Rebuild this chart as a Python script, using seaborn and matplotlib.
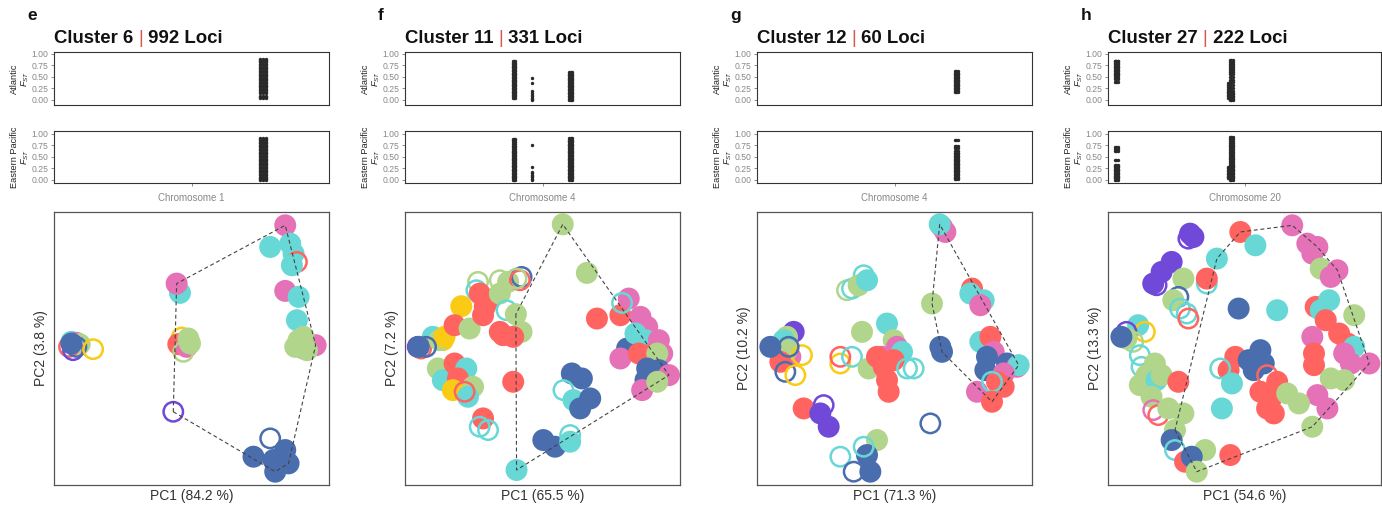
import numpy as np
import pandas as pd
import matplotlib
matplotlib.use("Agg")
import matplotlib.pyplot as plt
import matplotlib.colors as mcolors
from matplotlib.text import Annotation
import seaborn as sns

sns.set_theme(style="white")
plt.rcParams['font.family'] = ['Liberation Sans', 'DejaVu Sans']
plt.rcParams['mathtext.fontset'] = 'custom'
plt.rcParams['mathtext.it'] = 'Liberation Sans:italic'
plt.rcParams['mathtext.rm'] = 'Liberation Sans'

# ---------------- data ----------------
panel_letters = ["e", "f", "g", "h"]
cluster_ids = [6, 11, 12, 27]
loci_counts = [992, 331, 60, 222]
chromosomes = ["Chromosome 1", "Chromosome 4", "Chromosome 4", "Chromosome 20"]
pc1_var = [84.2, 65.5, 71.3, 54.6]
pc2_var = [3.8, 7.2, 10.2, 13.3]
fst_ticks = [0.0, 0.25, 0.5, 0.75, 1.0]
fst_ticklabels = ["0.00", "0.25", "0.50", "0.75", "1.00"]

# FST: locus positions along chromosome (relative) and FST values
e_pos = [0.76]
e_atl = [[0.04, 0.06, 0.08, 0.15, 0.18, 0.21, 0.24, 0.27, 0.30, 0.33, 0.36, 0.39, 0.42, 0.45,
          0.48, 0.51, 0.54, 0.57, 0.60, 0.63, 0.66, 0.69, 0.72, 0.75, 0.78, 0.81, 0.84, 0.87, 0.89]]
e_ep = [[0.00, 0.02, 0.04, 0.07, 0.10, 0.13, 0.16, 0.19, 0.22, 0.25, 0.28, 0.31, 0.34, 0.37, 0.40,
         0.43, 0.46, 0.49, 0.52, 0.55, 0.58, 0.61, 0.64, 0.67, 0.70, 0.73, 0.76, 0.79, 0.82, 0.85, 0.88, 0.90]]

f_pos = [0.397, 0.462, 0.602]
f_atl = [[0.05, 0.08, 0.11, 0.14, 0.17, 0.20, 0.23, 0.26, 0.29, 0.32, 0.35, 0.38, 0.41, 0.44, 0.47,
          0.50, 0.53, 0.56, 0.59, 0.62, 0.65, 0.68, 0.71, 0.74, 0.77, 0.80, 0.83],
         [0.00, 0.02, 0.05, 0.08, 0.11, 0.14, 0.20, 0.37, 0.48],
         [0.00, 0.03, 0.06, 0.09, 0.12, 0.15, 0.18, 0.21, 0.24, 0.27, 0.30, 0.33, 0.36, 0.39, 0.42,
          0.45, 0.48, 0.51, 0.54, 0.57, 0.60]]
f_ep = [[0.00, 0.03, 0.06, 0.09, 0.12, 0.15, 0.18, 0.21, 0.24, 0.27, 0.30, 0.33, 0.36, 0.39, 0.42,
         0.45, 0.48, 0.51, 0.54, 0.57, 0.60, 0.63, 0.66, 0.70, 0.74, 0.78, 0.82, 0.85, 0.88],
        [0.00, 0.02, 0.05, 0.08, 0.11, 0.14, 0.17, 0.27, 0.76],
        [0.00, 0.03, 0.06, 0.09, 0.12, 0.15, 0.18, 0.21, 0.24, 0.27, 0.30, 0.33, 0.36, 0.39, 0.42,
         0.45, 0.48, 0.51, 0.54, 0.57, 0.60, 0.63, 0.66, 0.69, 0.72, 0.75, 0.78, 0.81, 0.84, 0.87, 0.90]]

g_pos = [0.725]
g_atl = [[0.17, 0.20, 0.23, 0.26, 0.29, 0.32, 0.35, 0.38, 0.41, 0.44, 0.47, 0.50, 0.53, 0.56, 0.59, 0.62]]
g_ep = [[0.02, 0.04, 0.07, 0.10, 0.13, 0.16, 0.19, 0.22, 0.25, 0.28, 0.31, 0.34, 0.37, 0.40, 0.43,
         0.46, 0.49, 0.52, 0.55, 0.58, 0.63, 0.68, 0.73, 0.86]]

h_pos = [0.03, 0.44, 0.452]
h_atl = [[0.38, 0.45, 0.50, 0.53, 0.56, 0.59, 0.62, 0.65, 0.68, 0.71, 0.74, 0.77, 0.80, 0.83, 0.85],
         [0.05, 0.08, 0.11, 0.14, 0.17, 0.20, 0.24, 0.28, 0.33, 0.36],
         [0.00, 0.03, 0.06, 0.09, 0.12, 0.15, 0.20, 0.26, 0.32, 0.38, 0.44, 0.50, 0.55, 0.60, 0.65,
          0.70, 0.74, 0.78, 0.82, 0.86]]
h_ep = [[0.00, 0.03, 0.06, 0.09, 0.12, 0.15, 0.18, 0.21, 0.24, 0.27, 0.30, 0.33, 0.43, 0.62, 0.66, 0.71],
        [0.03, 0.06, 0.09, 0.12, 0.15, 0.18, 0.22, 0.25, 0.28],
        [0.00, 0.03, 0.06, 0.09, 0.12, 0.15, 0.18, 0.21, 0.24, 0.27, 0.30, 0.33, 0.36, 0.40, 0.44,
         0.48, 0.52, 0.56, 0.60, 0.64, 0.68, 0.72, 0.76, 0.80, 0.84, 0.88, 0.92]]

# PCA scores: (PC1, PC2, population, filled, on-hull group)
e_pca = [
    (95, 475, "cyan", 1, 0), (110, 472, "pink", 1, 0), (120, 468, "green", 1, 0), (88, 460, "red", 0, 0),
    (100, 450, "purple", 0, 0), (110, 460, "blue", 0, 0), (160, 453, "yellow", 0, 0), (95, 470, "blue", 1, 0),
    (420, 622, "cyan", 1, 0), (410, 650, "pink", 1, 1),
    (425, 488, "yellow", 0, 0), (415, 468, "red", 1, 0), (440, 460, "pink", 1, 0), (430, 445, "green", 0, 0),
    (445, 485, "green", 1, 0), (450, 470, "green", 1, 0),
    (400, 265, "purple", 0, 1),
    (735, 825, "pink", 1, 1), (690, 760, "cyan", 1, 0), (750, 770, "cyan", 1, 0), (760, 740, "cyan", 1, 0),
    (770, 715, "red", 0, 0), (755, 705, "cyan", 1, 0), (735, 628, "pink", 1, 0), (775, 610, "cyan", 1, 0),
    (770, 540, "cyan", 1, 0), (790, 455, "pink", 1, 0), (826, 465, "pink", 1, 1), (765, 460, "green", 1, 0),
    (790, 490, "green", 1, 0), (775, 480, "green", 1, 0), (800, 450, "green", 1, 0),
    (690, 185, "blue", 0, 0), (640, 130, "blue", 1, 0), (735, 150, "blue", 1, 0), (745, 110, "blue", 1, 1),
    (700, 120, "blue", 1, 0), (705, 85, "blue", 1, 1),
]
f_pca = [
    (130, 490, "cyan", 1, 0), (85, 460, "purple", 0, 0), (95, 455, "red", 0, 0), (160, 480, "yellow", 0, 0),
    (150, 480, "green", 1, 0), (165, 490, "yellow", 1, 0), (110, 460, "blue", 0, 0), (88, 460, "blue", 1, 0),
    (215, 582, "yellow", 1, 0), (195, 525, "red", 1, 0), (240, 515, "green", 1, 0),
    (265, 655, "green", 0, 0), (330, 660, "green", 0, 0), (355, 655, "green", 1, 0), (395, 670, "blue", 0, 0),
    (390, 660, "red", 0, 0), (380, 665, "green", 0, 0),
    (260, 630, "cyan", 0, 0), (270, 620, "red", 1, 0), (300, 600, "red", 1, 0), (285, 580, "red", 1, 0),
    (280, 555, "red", 1, 0), (330, 620, "green", 1, 0), (350, 570, "cyan", 0, 0), (378, 558, "green", 1, 1),
    (395, 505, "green", 1, 0), (330, 505, "red", 1, 0), (340, 495, "red", 1, 0), (370, 490, "red", 1, 0),
    (145, 395, "green", 1, 0), (160, 360, "cyan", 1, 0), (195, 410, "red", 1, 0), (230, 395, "cyan", 1, 0),
    (205, 365, "red", 1, 0), (250, 340, "green", 1, 0), (190, 330, "yellow", 1, 0), (235, 310, "cyan", 1, 0),
    (225, 325, "red", 0, 0), (280, 245, "red", 1, 0), (270, 220, "cyan", 0, 0), (295, 210, "cyan", 0, 0),
    (370, 355, "red", 1, 0),
    (518, 828, "green", 1, 1), (590, 682, "green", 1, 0),
    (620, 545, "red", 1, 0), (690, 555, "red", 1, 0), (715, 605, "pink", 1, 0), (695, 592, "cyan", 0, 0),
    (750, 550, "pink", 1, 0), (770, 520, "pink", 1, 0), (710, 455, "blue", 1, 0), (690, 425, "pink", 1, 0),
    (735, 500, "cyan", 1, 0), (765, 480, "cyan", 1, 0), (785, 460, "cyan", 1, 0), (805, 480, "pink", 1, 0),
    (815, 440, "pink", 1, 0), (745, 440, "red", 1, 0), (775, 435, "red", 1, 0), (800, 440, "green", 1, 0),
    (770, 395, "blue", 1, 0), (805, 390, "blue", 1, 0), (765, 360, "blue", 1, 0), (835, 375, "pink", 1, 1),
    (755, 330, "pink", 1, 0), (800, 355, "green", 1, 0),
    (545, 380, "blue", 1, 0), (575, 365, "blue", 1, 0), (520, 330, "cyan", 0, 0), (550, 300, "cyan", 1, 0),
    (600, 305, "blue", 1, 0), (570, 275, "blue", 1, 0),
    (460, 180, "blue", 1, 0), (495, 160, "blue", 1, 0), (540, 195, "cyan", 0, 0), (540, 175, "cyan", 1, 0),
    (380, 90, "cyan", 1, 1),
]
g_pca = [
    (605, 820, "pink", 1, 0), (615, 805, "pink", 1, 0), (598, 828, "cyan", 1, 1),
    (320, 630, "green", 0, 0), (335, 635, "cyan", 0, 0), (370, 675, "cyan", 0, 0), (355, 645, "green", 1, 0),
    (380, 660, "cyan", 1, 0),
    (575, 590, "green", 1, 1),
    (695, 635, "red", 1, 0), (690, 620, "cyan", 1, 0), (730, 600, "cyan", 1, 0), (720, 585, "pink", 1, 0),
    (160, 505, "purple", 1, 0), (150, 430, "pink", 1, 0), (140, 490, "green", 1, 0), (130, 480, "cyan", 1, 0),
    (140, 450, "green", 1, 0), (120, 415, "red", 1, 0), (135, 385, "blue", 0, 0), (165, 375, "yellow", 0, 0),
    (185, 435, "yellow", 0, 0), (90, 460, "blue", 1, 0), (145, 460, "blue", 0, 0),
    (365, 505, "green", 1, 0), (440, 530, "cyan", 1, 0), (460, 480, "green", 1, 0), (300, 410, "yellow", 0, 0),
    (300, 430, "red", 0, 0), (335, 430, "cyan", 0, 0), (385, 395, "green", 1, 0), (425, 430, "pink", 1, 0),
    (470, 460, "pink", 1, 0), (485, 445, "cyan", 1, 0), (410, 430, "red", 1, 0), (460, 420, "red", 1, 0),
    (430, 400, "red", 1, 0), (440, 360, "red", 1, 0), (445, 325, "red", 1, 0), (500, 395, "cyan", 0, 0),
    (520, 395, "cyan", 0, 0),
    (600, 460, "blue", 1, 0), (605, 445, "blue", 1, 1),
    (720, 475, "cyan", 1, 0), (750, 490, "red", 1, 0), (760, 445, "pink", 1, 0), (740, 430, "blue", 1, 0),
    (800, 410, "blue", 1, 0), (830, 400, "pink", 1, 0), (835, 405, "cyan", 1, 1), (735, 390, "blue", 1, 0),
    (790, 380, "pink", 1, 0), (710, 325, "pink", 1, 0), (790, 340, "red", 1, 0), (770, 355, "red", 1, 0),
    (755, 355, "cyan", 0, 0), (755, 295, "red", 1, 1),
    (190, 275, "red", 1, 0), (250, 285, "purple", 0, 0), (240, 260, "purple", 1, 0), (265, 220, "purple", 1, 0),
    (570, 230, "blue", 0, 0),
    (410, 180, "green", 1, 0), (300, 130, "cyan", 0, 0), (380, 135, "blue", 1, 0), (370, 160, "cyan", 0, 0),
    (340, 85, "blue", 0, 0), (390, 85, "blue", 1, 0),
]
h_pca = [
    (300, 800, "purple", 1, 0), (295, 785, "purple", 0, 0), (310, 790, "purple", 1, 0), (245, 715, "purple", 1, 0),
    (215, 685, "purple", 1, 0), (190, 650, "purple", 1, 0), (200, 645, "purple", 0, 0),
    (380, 725, "cyan", 1, 1), (280, 665, "green", 1, 0), (350, 650, "cyan", 0, 0), (350, 665, "red", 1, 0),
    (265, 610, "blue", 0, 0), (250, 600, "green", 1, 0), (270, 575, "cyan", 0, 0), (290, 560, "cyan", 0, 0),
    (295, 545, "red", 0, 0),
    (450, 805, "red", 1, 1), (495, 765, "cyan", 1, 0),
    (145, 525, "cyan", 1, 0), (165, 505, "yellow", 0, 0), (110, 505, "purple", 0, 0), (130, 475, "green", 0, 0),
    (110, 485, "green", 1, 0), (95, 490, "blue", 1, 0), (150, 435, "cyan", 0, 0), (155, 400, "cyan", 0, 0),
    (195, 410, "green", 1, 0), (170, 375, "green", 1, 0), (150, 345, "green", 1, 0), (200, 360, "cyan", 1, 0),
    (215, 375, "green", 1, 0), (185, 310, "green", 1, 0), (190, 270, "pink", 0, 0), (205, 255, "red", 0, 0),
    (235, 275, "green", 1, 0), (280, 260, "green", 1, 0), (265, 355, "red", 1, 0), (255, 210, "green", 1, 1),
    (245, 180, "blue", 1, 0), (255, 150, "cyan", 0, 0), (285, 115, "red", 1, 0), (345, 150, "green", 1, 0),
    (305, 130, "blue", 1, 0), (320, 85, "green", 1, 1), (420, 135, "red", 1, 0),
    (445, 575, "blue", 1, 0), (560, 570, "cyan", 1, 0), (395, 275, "cyan", 1, 0), (435, 430, "red", 1, 0),
    (415, 390, "red", 1, 0), (390, 395, "cyan", 0, 0), (425, 350, "cyan", 1, 0), (475, 420, "blue", 1, 0),
    (510, 450, "blue", 1, 0), (490, 390, "blue", 1, 0), (520, 410, "blue", 1, 0), (530, 375, "red", 0, 0),
    (560, 355, "red", 1, 0), (510, 325, "red", 1, 0), (540, 300, "red", 1, 0), (550, 260, "red", 1, 0),
    (530, 275, "red", 1, 0),
    (605, 825, "pink", 1, 1), (650, 770, "pink", 1, 0), (665, 740, "pink", 1, 0), (680, 760, "pink", 1, 1),
    (690, 695, "green", 1, 0), (740, 690, "pink", 1, 1), (720, 670, "pink", 1, 0), (675, 580, "red", 1, 0),
    (715, 600, "cyan", 1, 0), (690, 570, "cyan", 1, 0), (790, 555, "green", 1, 0), (705, 540, "red", 1, 0),
    (665, 490, "pink", 1, 0), (745, 500, "red", 1, 0), (770, 470, "red", 1, 0), (790, 460, "cyan", 1, 0),
    (760, 440, "pink", 1, 0), (670, 440, "red", 1, 0), (670, 405, "red", 1, 0), (780, 410, "pink", 1, 0),
    (835, 410, "pink", 1, 1), (720, 365, "green", 1, 0), (760, 360, "green", 1, 0), (680, 315, "pink", 1, 0),
    (710, 275, "pink", 1, 0), (625, 290, "green", 1, 0), (590, 320, "green", 1, 0), (665, 220, "green", 1, 1),
]

COLORS = {"blue": "#4A6DAE", "cyan": "#67D8D6", "pink": "#E571B6", "red": "#FF6461",
          "green": "#B1D68B", "purple": "#7049D8", "yellow": "#FACB15"}

fst_pos = [e_pos, f_pos, g_pos, h_pos]
fst_atl = [e_atl, f_atl, g_atl, h_atl]
fst_ep = [e_ep, f_ep, g_ep, h_ep]
pca_pts = [e_pca, f_pca, g_pca, h_pca]

# ---------------- layout ----------------
W, H = 1382, 507
fig = plt.figure(figsize=(W / 100, H / 100), dpi=100)


def rect(x0, y0, w, h):
    return [x0 / W, 1 - (y0 + h) / H, w / W, h / H]


col_left = [54, 405, 757, 1108]
col_width = [275, 275, 275, 273]
pca_xlim = [(43, 866), (47, 868), (50, 875), (55, 870)]
pca_ylim = (45, 865)
spread = [0.02, 0.008, 0.012, 0.01]


def convex_hull(points):
    pts = sorted(set(points))
    if len(pts) < 3:
        return pts

    def cross(o, a, b):
        return (a[0] - o[0]) * (b[1] - o[1]) - (a[1] - o[1]) * (b[0] - o[0])
    lower, upper = [], []
    for p in pts:
        while len(lower) >= 2 and cross(lower[-2], lower[-1], p) <= 0:
            lower.pop()
        lower.append(p)
    for p in reversed(pts):
        while len(upper) >= 2 and cross(upper[-2], upper[-1], p) <= 0:
            upper.pop()
        upper.append(p)
    return lower[:-1] + upper[:-1]


def draw_fst(ax, positions, values, width, ylim):
    xs, ys = [], []
    for pos, vals in zip(positions, values):
        offs = [0.0] if len(vals) < 12 else [-width / 2, 0.0, width / 2]
        for o in offs:
            xs.extend([pos + o] * len(vals))
            ys.extend(vals)
    sns.scatterplot(x=xs, y=ys, ax=ax, color="#2a2a2a", s=6, linewidth=0, legend=False)
    ax.set_xlim(0, 1)
    ax.set_ylim(*ylim)
    ax.set_yticks(fst_ticks)
    ax.set_yticklabels(fst_ticklabels)
    ax.tick_params(axis="y", left=True, length=2.5, width=0.6, color="#777", labelsize=6.2,
                   labelcolor="#888", pad=1.5)
    for s in ax.spines.values():
        s.set_color("#333")
        s.set_linewidth(0.8)


for i in range(4):
    L, Wd = col_left[i], col_width[i]
    # panel letter and title
    fig.text((L - 27) / W, 1 - 20 / H, panel_letters[i], fontsize=12.5, fontweight="bold",
             va="baseline", ha="left", color="#111")
    t1 = fig.text(L / W, 1 - 43 / H, f"Cluster {cluster_ids[i]} ", fontsize=13.4, fontweight="bold",
                  va="baseline", ha="left", color="#111")
    an1 = Annotation("|", xy=(1, 0), xycoords=t1, va="bottom", ha="left", fontsize=13.4,
                     color="#D9574D", annotation_clip=False)
    fig.add_artist(an1)
    an2 = Annotation(f" {loci_counts[i]} Loci", xy=(1, 0), xycoords=an1, va="bottom", ha="left",
                     fontsize=13.4, fontweight="bold", color="#111", annotation_clip=False)
    fig.add_artist(an2)

    ax1 = fig.add_axes(rect(L, 52, Wd, 53))
    draw_fst(ax1, fst_pos[i], fst_atl[i], spread[i], (-0.11, 1.035))
    ax1.set_xticks([])
    ax1.set_ylabel("Atlantic\n$F_{ST}$", fontsize=6.6, color="#222", labelpad=0.3, linespacing=1.1)

    ax2 = fig.add_axes(rect(L, 131, Wd, 52))
    draw_fst(ax2, fst_pos[i], fst_ep[i], spread[i], (-0.07, 1.055))
    ax2.set_xticks([0.5])
    ax2.set_xticklabels([""])
    ax2.tick_params(axis="x", bottom=True, length=2.5, width=0.6, color="#777")
    ax2.set_xlabel(chromosomes[i], fontsize=7, color="#888", labelpad=1)
    ax2.set_ylabel("Eastern Pacific\n$F_{ST}$", fontsize=6.6, color="#222", labelpad=0.3, linespacing=1.1)

    ax3 = fig.add_axes(rect(L, 212, Wd, 273))
    df = pd.DataFrame(pca_pts[i], columns=["pc1", "pc2", "pop", "filled", "hull"])
    sns.scatterplot(data=df, x="pc1", y="pc2", hue="pop", palette=COLORS, s=250, linewidth=0,
                    legend=False, ax=ax3)
    coll = ax3.collections[-1]
    rgba = np.array([mcolors.to_rgba(COLORS[p]) for p in df["pop"]])
    face = rgba.copy()
    hollow = df["filled"].values == 0
    face[hollow, 3] = 0.0
    coll.set_facecolors(face)
    coll.set_edgecolors(rgba)
    coll.set_linewidths(np.where(hollow, 1.8, 0.0))
    coll.set_sizes(np.where(hollow, 195, 250))
    hp = convex_hull(list(zip(df.loc[df.hull == 1, "pc1"], df.loc[df.hull == 1, "pc2"])))
    hp = hp + [hp[0]]
    ax3.plot([p[0] for p in hp], [p[1] for p in hp], ls=(0, (3.5, 2.5)), color="#444", lw=0.8, zorder=5)
    ax3.set_xlim(*pca_xlim[i])
    ax3.set_ylim(*pca_ylim)
    ax3.set_xticks([])
    ax3.set_yticks([])
    ax3.set_xlabel(f"PC1 ({pc1_var[i]} %)", fontsize=10, color="#333", labelpad=3)
    ax3.set_ylabel(f"PC2 ({pc2_var[i]} %)", fontsize=10, color="#333", labelpad=4)
    for s in ax3.spines.values():
        s.set_color("#555")
        s.set_linewidth(0.9)

fig.savefig("out.png", dpi=100, facecolor="white")
